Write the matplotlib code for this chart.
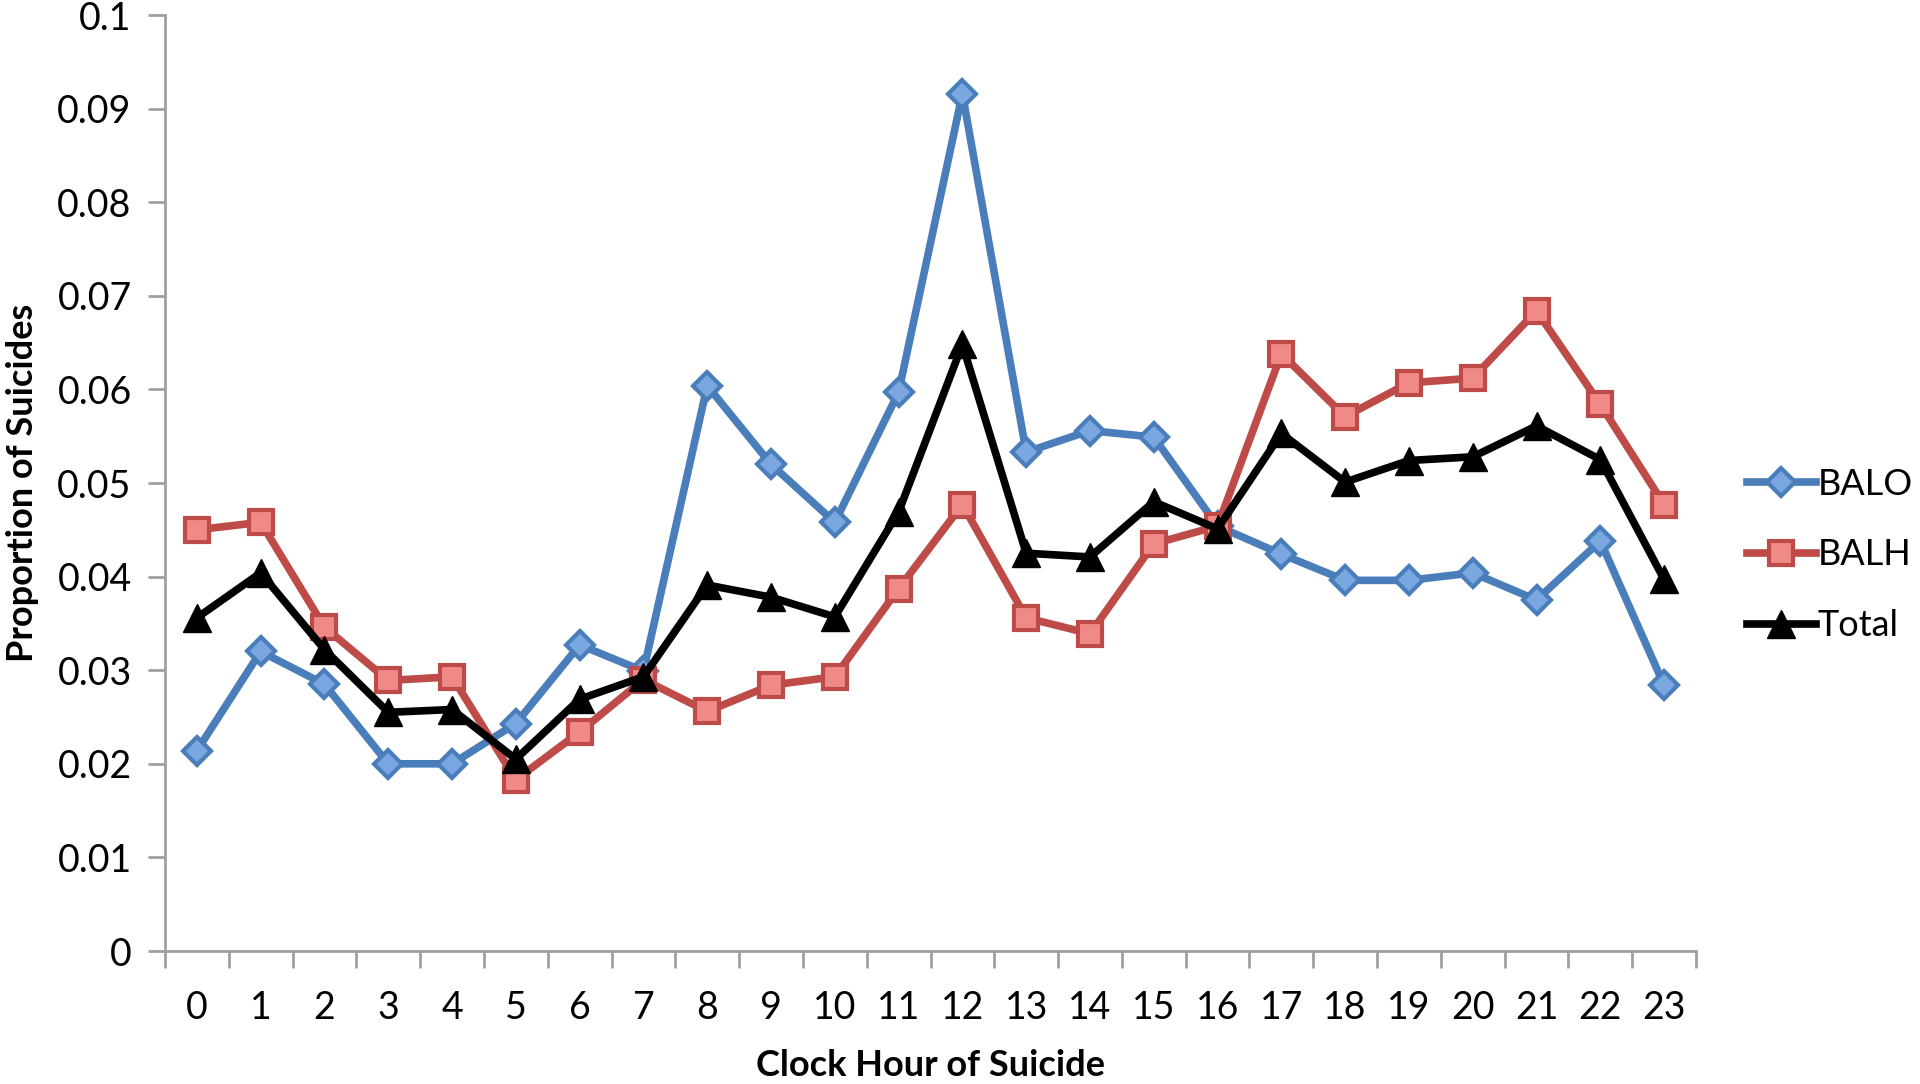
import numpy as np
import matplotlib.pyplot as plt

plt.rcParams['font.family'] = ['Lato', 'DejaVu Sans']

hours = [str(h) for h in range(24)]
balo = [0.0214, 0.0320, 0.0285, 0.0200, 0.0200, 0.0243, 0.0327, 0.0299,
        0.0604, 0.0520, 0.0458, 0.0597, 0.0916, 0.0533, 0.0556, 0.0549,
        0.0454, 0.0424, 0.0396, 0.0396, 0.0404, 0.0375, 0.0438, 0.0284]
balh = [0.0450, 0.0458, 0.0346, 0.0289, 0.0293, 0.0183, 0.0234, 0.0290,
        0.0256, 0.0284, 0.0293, 0.0387, 0.0477, 0.0356, 0.0339, 0.0435,
        0.0454, 0.0638, 0.0571, 0.0607, 0.0612, 0.0684, 0.0584, 0.0477]
total = [0.0356, 0.0404, 0.0322, 0.0255, 0.0258, 0.0205, 0.0269, 0.0293,
         0.0391, 0.0378, 0.0357, 0.0469, 0.0648, 0.0425, 0.0421, 0.0480,
         0.0451, 0.0553, 0.0501, 0.0524, 0.0528, 0.0561, 0.0525, 0.0397]

fig = plt.figure(figsize=(19.2, 10.84), dpi=100)
ax = fig.add_axes([165/1920, 1 - 951/1084, (1696-165)/1920, (951-15)/1084])

x = np.arange(len(hours))
ax.plot(x, balo, color='#4a7ebb', lw=5.5, marker='D', ms=14,
        mfc='#7ba7e1', mec='#4a7ebb', mew=3, label='BALO', zorder=3)
ax.plot(x, balh, color='#be4b48', lw=5.5, marker='s', ms=17,
        mfc='#f08a88', mec='#be4b48', mew=3, label='BALH', zorder=3)
ax.plot(x, total, color='black', lw=5.5, marker='^', ms=20,
        mfc='black', mec='black', label='Total', zorder=4)

ax.set_xlim(-0.5, 23.5)
ax.set_ylim(0, 0.1)
ax.set_yticks(np.arange(0, 0.1001, 0.01))
ax.set_yticklabels(['0'] + ['%g' % round(v, 2) for v in np.arange(0.01, 0.1001, 0.01)])
ax.set_xticks(x)
ax.set_xticklabels(hours)
ax.set_xticks(np.arange(-0.5, 24, 1), minor=True)
ax.tick_params(axis='x', which='major', length=0, pad=28, labelsize=27)
ax.tick_params(axis='x', which='minor', length=12, width=2, color='#a0a0a0')
ax.tick_params(axis='y', length=12, width=2, color='#a0a0a0', labelsize=27, pad=12)

for s in ['top', 'right']:
    ax.spines[s].set_visible(False)
for s in ['left', 'bottom']:
    ax.spines[s].set_color('#a0a0a0')
    ax.spines[s].set_linewidth(2)

ax.set_xlabel('Clock Hour of Suicide', fontsize=26, fontweight='bold', labelpad=17)
ax.set_ylabel('Proportion of Suicides', fontsize=26, fontweight='bold', labelpad=13)

ax.legend(loc='center left', bbox_to_anchor=(1747/1920, 1 - 555/1084),
          bbox_transform=fig.transFigure, frameon=False, fontsize=26,
          handlelength=1.9, handletextpad=0.05, labelspacing=1.05,
          borderpad=0, borderaxespad=0)

fig.savefig('out.png', dpi=100)
